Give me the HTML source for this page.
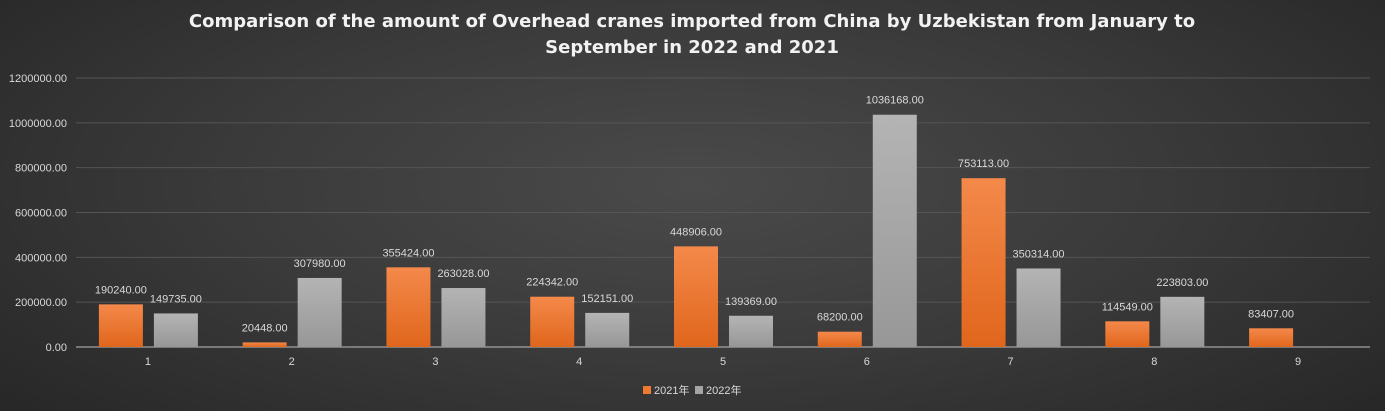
<!DOCTYPE html>
<html><head><meta charset="utf-8"><style>
html,body{margin:0;padding:0;}
body{width:1385px;height:411px;overflow:hidden;background:radial-gradient(ellipse 75% 95% at 50% 45%,#4a4a4a 0%,#3a3a3a 45%,#222 100%);font-family:"Liberation Sans","Noto Sans CJK SC",sans-serif;}
svg{display:block}
</style></head><body>
<svg id="chart" width="1385" height="411">
<defs>
<linearGradient id="og" x1="0" y1="0" x2="0" y2="1"><stop offset="0" stop-color="#f4894a"/><stop offset="1" stop-color="#e0661c"/></linearGradient>
<linearGradient id="gg" x1="0" y1="0" x2="0" y2="1"><stop offset="0" stop-color="#b4b4b4"/><stop offset="1" stop-color="#979797"/></linearGradient>
</defs>
<text x="692" y="27" text-anchor="middle" fill="#f2f2f2" font-size="18" font-weight="bold" font-family="'DejaVu Sans',sans-serif">Comparison of the amount of Overhead cranes imported from China by Uzbekistan from January to</text>
<text x="692" y="53" text-anchor="middle" fill="#f2f2f2" font-size="18" font-weight="bold" font-family="'DejaVu Sans',sans-serif">September in 2022 and 2021</text>
<g id="grid"></g><g id="bars"></g><g id="labels"></g>
<g>
<rect x="643" y="386" width="8" height="8" fill="#ee7a32"/>
<text x="654" y="394" fill="#d9d9d9" font-size="11">2021年</text>
<rect x="695" y="386" width="8" height="8" fill="#a5a5a5"/>
<text x="706" y="394" fill="#d9d9d9" font-size="11">2022年</text>
</g>
</svg>
<script>
const categories=["1","2","3","4","5","6","7","8","9"];
const series2021=[190240,20448,355424,224342,448906,68200,753113,114549,83407];
const series2022=[149735,307980,263028,152151,139369,1036168,350314,223803,null];
const yTicks=[0,200000,400000,600000,800000,1000000,1200000];
const NS="http://www.w3.org/2000/svg";
const x0=76,x1=1370,yBase=347,yTop=78,yMax=1200000;
const bw=(x1-x0)/categories.length;
const y=v=>yBase-(v/yMax)*(yBase-yTop);
const grid=document.getElementById('grid'),bars=document.getElementById('bars'),labels=document.getElementById('labels');
function mk(tag,attrs,parent,txt){const e=document.createElementNS(NS,tag);for(const k in attrs)e.setAttribute(k,attrs[k]);if(txt!==undefined)e.textContent=txt;parent.appendChild(e);return e;}
yTicks.forEach(t=>{
 const l=mk('line',{x1:x0,x2:x1,y1:y(t),y2:y(t),stroke:t===0?'#bfbfbf':'#555','stroke-width':1},grid);
 
 
 const tx=mk('text',{x:67,y:y(t)+4,'text-anchor':'end',fill:'#d9d9d9','font-size':11},grid,t.toFixed(2));
 
 
});
categories.forEach((c,i)=>{
 const cx=x0+bw*(i+0.5);
 const tx=mk('text',{x:cx,y:365,'text-anchor':'middle',fill:'#d9d9d9','font-size':11},grid,c);
 
 
 [[series2021[i],-49,'url(#og)','2021'],[series2022[i],6,'url(#gg)','2022']].forEach(([v,off,fill,yr])=>{
  if(v===null||v===undefined)return;
  const r=mk('rect',{x:cx+off,y:y(v),width:44,height:yBase-y(v),fill:fill},bars);
  
  
  const lb=mk('text',{x:cx+off+22,y:y(v)-11,'text-anchor':'middle',fill:'#d9d9d9','font-size':11},labels,v.toFixed(2));
  
  
 });
});
</script>
</body></html>
